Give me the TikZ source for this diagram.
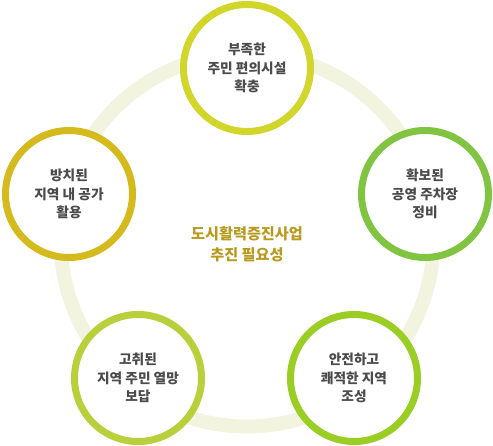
\documentclass[tikz,border=0pt]{standalone}
\usepackage{fontspec}
\setmainfont{Noto Sans CJK KR}
\definecolor{ringc}{HTML}{F3F4DF}
\definecolor{ctop}{HTML}{D2D52A}
\definecolor{cright}{HTML}{80C441}
\definecolor{cleft}{HTML}{D5BA1E}
\definecolor{cbl}{HTML}{B9CF3B}
\definecolor{cbr}{HTML}{9BCE24}
\definecolor{ctext}{HTML}{4B4B4B}
\definecolor{ccenter}{HTML}{B89B1E}
\tikzset{
  item/.style={circle, draw, line width=7pt, fill=white, minimum size=127pt, inner sep=0pt,
    align=center, text=ctext, font=\fontsize{13.7}{18.5}\selectfont\bfseries},
}
\begin{document}
\begin{tikzpicture}[x=1pt,y=-1pt]
\useasboundingbox (0,0) rectangle (493,446);
\draw[ringc, line width=14pt] (247,240) circle[radius=186.5];
\node[item, draw=ctop] (n1) at (247,68) {부족한\\주민 편의시설\\확충};
\node[item, draw=cright] (n2) at (425,194) {확보된\\공영 주차장\\정비};
\node[item, draw=cbr] (n3) at (354,378) {안전하고\\쾌적한 지역\\조성};
\node[item, draw=cbl] (n4) at (138,378) {고취된\\지역 주민 열망\\보답};
\node[item, draw=cleft] (n5) at (69,194) {방치된\\지역 내 공가\\활용};
\node[align=center, text=ccenter, font=\fontsize{15.2}{21}\selectfont\bfseries] (c) at (247,244) {도시활력증진사업\\추진 필요성};
\end{tikzpicture}
\end{document}
